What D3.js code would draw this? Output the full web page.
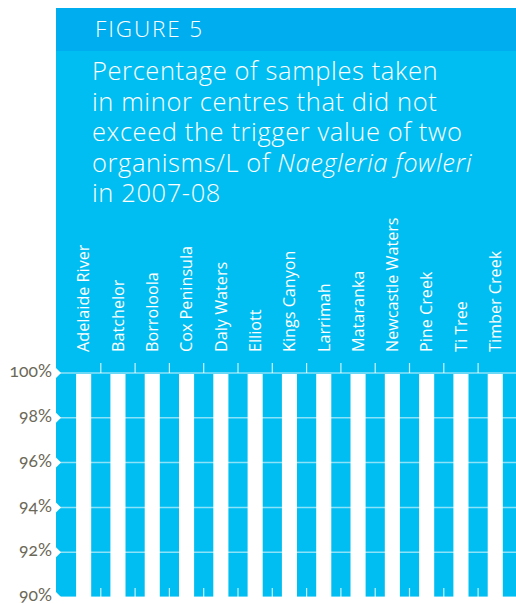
<!DOCTYPE html>
<html>
<head>
<meta charset="utf-8">
<script src="https://cdn.jsdelivr.net/npm/d3@7"></script>
<style>
  html, body { margin: 0; padding: 0; background: #fff; }
  svg { display: block; }
</style>
</head>
<body>
<div id="chart"></div>
<script>
// ── Figure 5: Naegleria fowleri compliance, minor centres 2007-08 ──

const centres = [
  'Adelaide River', 'Batchelor', 'Borroloola', 'Cox Peninsula', 'Daly Waters',
  'Elliott', 'Kings Canyon', 'Larrimah', 'Mataranka', 'Newcastle Waters',
  'Pine Creek', 'Ti Tree', 'Timber Creek',
];
const pctCompliant = [100, 100, 100, 100, 100, 100, 100, 100, 100, 100, 100, 100, 100];
const yTicks = [90, 92, 94, 96, 98, 100];
const yTickLabels = ['90%', '92%', '94%', '96%', '98%', '100%'];

const figureLabel = 'FIGURE 5';
const titleLines = [
  ['Percentage of samples taken'],
  ['in minor centres that did not'],
  ['exceed the trigger value of two'],
  ['organisms/L of ', { italic: 'Naegleria fowleri' }],
  ['in 2007-08'],
];

const W = 516, H = 604;
const panelLeft = 56;
const headerTop = 8, headerBottom = 51;
const plotTop = 373, plotBottom = 597;

const BLUE_DARK = '#00aeef';
const BLUE = '#00bef2';
const FONT = '"Open Sans", Lato, sans-serif';

const svg = d3.select('#chart').append('svg')
  .attr('width', W)
  .attr('height', H);

// panel + header band
svg.append('rect')
  .attr('x', panelLeft).attr('y', headerTop)
  .attr('width', W - panelLeft).attr('height', plotBottom - headerTop)
  .attr('fill', BLUE);
svg.append('rect')
  .attr('x', panelLeft).attr('y', headerTop)
  .attr('width', W - panelLeft).attr('height', headerBottom - headerTop)
  .attr('fill', BLUE_DARK);

svg.append('text')
  .attr('x', 95).attr('y', 37)
  .attr('fill', '#fff')
  .attr('font-family', FONT)
  .attr('font-weight', 300)
  .attr('font-size', 22.5)
  .attr('letter-spacing', 1.9)
  .text(figureLabel);

// title
const title = svg.append('text')
  .attr('fill', '#fff')
  .attr('font-family', FONT)
  .attr('font-weight', 300)
  .attr('font-size', 25.5)
  .attr('letter-spacing', 0.6);
titleLines.forEach((parts, i) => {
  parts.forEach((p, j) => {
    const t = title.append('tspan');
    if (j === 0) t.attr('x', 92).attr('y', 80 + i * 30.6);
    if (typeof p === 'string') t.text(p);
    else t.attr('font-style', 'italic').text(p.italic);
  });
});

// scales
const x = d3.scaleBand()
  .domain(centres)
  .range([66.5, 66.5 + 34.3 * centres.length])
  .paddingInner(0.56)
  .paddingOuter(0.28);

const y = d3.scaleLinear()
  .domain([90, 100])
  .range([plotBottom, plotTop]);

// gridlines
svg.append('g')
  .selectAll('line')
  .data(yTicks)
  .join('line')
  .attr('x1', panelLeft).attr('x2', W)
  .attr('y1', d => y(d)).attr('y2', d => y(d))
  .attr('stroke', '#fff')
  .attr('stroke-opacity', 0.55)
  .attr('stroke-width', 1.5);

// bars
svg.append('g')
  .selectAll('rect')
  .data(centres)
  .join('rect')
  .attr('x', d => x(d))
  .attr('width', x.bandwidth())
  .attr('y', (d, i) => y(pctCompliant[i]) + 1)
  .attr('height', (d, i) => y(90) - y(pctCompliant[i]) - 1)
  .attr('fill', '#fff');

// category boundary ticks (top and bottom)
const bounds = centres.slice(1).map(c => x(c) - (x.step() - x.bandwidth()) / 2);
svg.append('g')
  .selectAll('line')
  .data(bounds)
  .join('line')
  .attr('x1', d => d).attr('x2', d => d)
  .attr('y1', plotTop - 10).attr('y2', plotTop)
  .attr('stroke', '#fff').attr('stroke-opacity', 0.8).attr('stroke-width', 1.2);
svg.append('g')
  .selectAll('line')
  .data(bounds)
  .join('line')
  .attr('x1', d => d).attr('x2', d => d)
  .attr('y1', plotBottom - 9).attr('y2', plotBottom)
  .attr('stroke', '#fff').attr('stroke-opacity', 0.8).attr('stroke-width', 1.2);

// category labels
svg.append('g')
  .selectAll('text')
  .data(centres)
  .join('text')
  .attr('transform', d => `translate(${x(d) + x.bandwidth() / 2},352) rotate(-90)`)
  .attr('dy', '0.36em')
  .attr('fill', '#fff')
  .attr('font-family', FONT)
  .attr('font-size', 16.2)
  .text(d => d);

// y axis notches and labels
svg.append('g')
  .selectAll('path')
  .data(yTicks)
  .join('path')
  .attr('d', d => `M${panelLeft - 1},${y(d) - 6}L${panelLeft + 5},${y(d)}L${panelLeft - 1},${y(d) + 6}Z`)
  .attr('fill', '#fff');

svg.append('g')
  .selectAll('text')
  .data(yTicks)
  .join('text')
  .attr('x', 52)
  .attr('y', d => y(d) - 1.5)
  .attr('dy', '0.32em')
  .attr('text-anchor', 'end')
  .attr('fill', '#6b6858')
  .attr('font-family', 'Lato, sans-serif')
  .attr('font-size', 17.5)
  .style('font-variant-numeric', 'oldstyle-nums')
  .text((d, i) => yTickLabels[i]);
</script>
</body>
</html>
